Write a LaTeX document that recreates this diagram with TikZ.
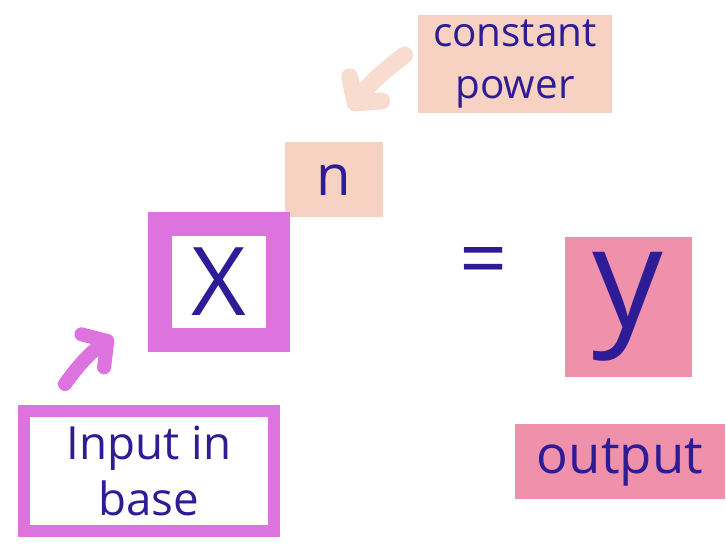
\documentclass[tikz,border=0pt]{standalone}
\usepackage{fontspec}
\setmainfont{Open Sans}
\usetikzlibrary{arrows.meta,positioning,calc}
\definecolor{ink}{RGB}{45,28,150}
\definecolor{peach}{RGB}{247,210,194}
\definecolor{peachlight}{RGB}{248,220,208}
\definecolor{marker}{RGB}{220,115,222}
\definecolor{rose}{RGB}{240,145,172}

\begin{document}
\begin{tikzpicture}[text=ink,
  hl/.style={inner sep=0pt,align=center},
  frame/.style={draw=marker,inner sep=0pt,align=center},
  pen/.style={line cap=round,-{Straight Barb[round,length=0.35cm,width=0.8cm]}}]
\useasboundingbox (0,0) rectangle (14.52,11);
% exponent side
\node[hl,fill=peach,minimum width=3.88cm,minimum height=1.96cm,
      font=\fontsize{23}{30}\selectfont] (cp) at (10.30,9.72) {constant\\power};
\node[hl,fill=peach,minimum width=1.96cm,minimum height=1.5cm,
      font=\fontsize{32}{32}\selectfont] (n) at (6.68,7.40) {n};

% base
\node[frame,line width=0.48cm,minimum width=2.36cm,minimum height=2.32cm,
      font=\fontsize{54}{54}\selectfont] (x) at (4.38,5.36) {X};
\node[frame,line width=0.24cm,minimum width=5.0cm,minimum height=2.4cm,
      font=\fontsize{26}{32}\selectfont] (in) at (2.98,1.58) {Input in\\base};

% result
\node[font=\fontsize{48}{48}\selectfont] (eq) at (9.68,5.64) {=};
\node[hl,fill=rose,minimum width=2.54cm,minimum height=2.8cm,
      font=\fontsize{80}{80}\selectfont] (y) at (12.56,4.86) {y};
\node[hl,fill=rose,minimum width=4.2cm,minimum height=1.5cm,
      font=\fontsize{30}{30}\selectfont] (out) at (12.40,1.76) {output};

% arrows
\draw[pen,peachlight,line width=0.34cm] ($(cp.west)+(-0.26,0.18)$)
      to[bend right=8] ($(n.north)+(0.32,0.65)$);
\draw[pen,marker,line width=0.28cm] ($(in.north)+(-1.68,0.42)$)
      to[bend left=10] ($(x.south west)+(-0.70,0.30)$);
\end{tikzpicture}
\end{document}
